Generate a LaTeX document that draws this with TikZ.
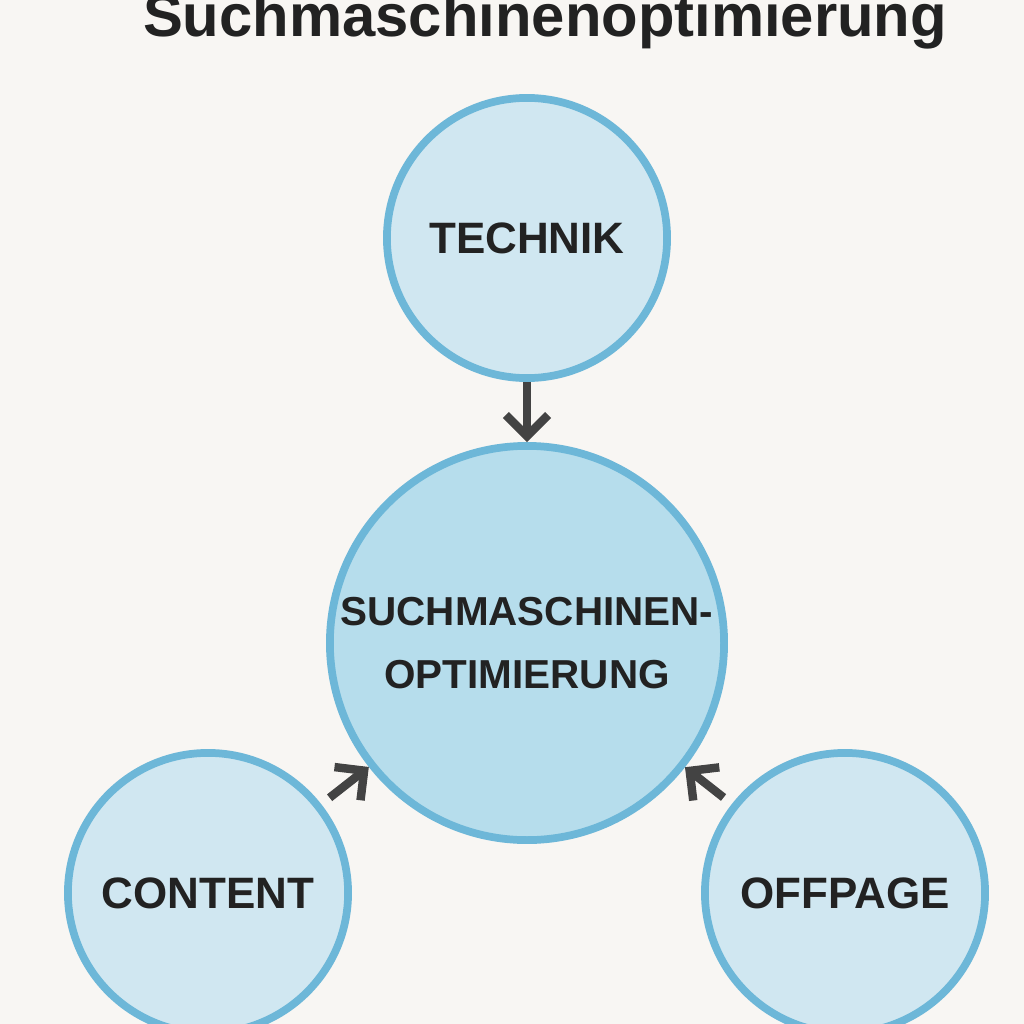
\documentclass[tikz,border=0pt]{standalone}
\usepackage{fontspec}
\setmainfont{Liberation Sans}
\usetikzlibrary{arrows.meta}
\definecolor{bg}{HTML}{F8F6F3}
\definecolor{fillA}{HTML}{D0E7F1}
\definecolor{fillB}{HTML}{B6DDEC}
\definecolor{edge}{HTML}{6DB7D8}
\definecolor{ink}{HTML}{222222}
\tikzset{
  circ/.style={circle,draw=edge,line width=2.2pt,fill=fillA,font=\bfseries\fontsize{12.5}{15}\selectfont,text=ink,inner sep=0pt,align=center},
  conn/.style={draw=ink!85,line width=2.4pt,-{Straight Barb[length=6pt,width=12pt,line width=2.4pt]}}
}
\begin{document}
\begin{tikzpicture}[x=0.01cm,y=-0.01cm]
\useasboundingbox (0,0) rectangle (1024,1024);
\clip (0,0) rectangle (1024,1024);
\fill[bg] (0,0) rectangle (1024,1024);
\node[font=\bfseries\fontsize{17}{20}\selectfont,text=ink,anchor=base] (title) at (545,36) {Suchmaschinenoptimierung};
\node[circ,minimum size=2.8cm] (tech) at (527,238) {TECHNIK};
\node[circ,minimum size=3.94cm,fill=fillB,font=\bfseries\fontsize{11.5}{14}\selectfont] (seo) at (527,643) {};
\node[font=\bfseries\fontsize{11.5}{14}\selectfont,text=ink,align=center] (seolabel) at (seo.center) {SUCHMASCHINEN-\\[4pt]OPTIMIERUNG};
\node[circ,minimum size=2.8cm] (content) at (208,893) {CONTENT};
\node[circ,minimum size=2.8cm] (off) at (845,893) {OFFPAGE};
\draw[conn] (tech) -- (seo);
\draw[conn,shorten <=3pt] (content) -- (seo);
\draw[conn,shorten <=3pt] (off) -- (seo);
\end{tikzpicture}
\end{document}
